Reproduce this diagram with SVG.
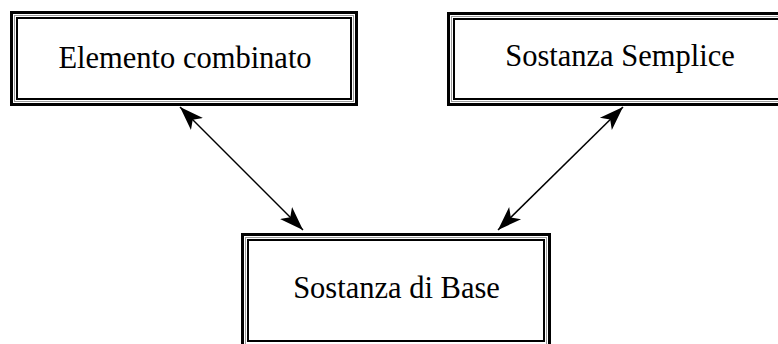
<svg xmlns="http://www.w3.org/2000/svg" width="778" height="344" viewBox="0 0 778 344">
<style>
.o{fill:none;stroke:#000;stroke-width:3}
.g{fill:none;stroke:#999;stroke-width:1}
.i{fill:none;stroke:#000;stroke-width:2}
.t{font-family:"Liberation Serif","Times New Roman",serif;font-size:30.5px;fill:#000;text-anchor:middle}
.c{stroke:#000;stroke-width:1.5;fill:none;marker-start:url(#ah);marker-end:url(#ah)}
</style>
<defs>
<marker id="ah" markerUnits="userSpaceOnUse" markerWidth="26" markerHeight="20" viewBox="0 0 26 20" refX="24" refY="10" orient="auto-start-reverse">
<path d="M0,1.5 L24,10 L0,18.5 L6,10 Z" fill="#000"/>
</marker>
</defs>
<rect width="778" height="344" fill="#fff"/>
<g id="elemento">
<rect class="o" x="11.5" y="12.5" width="345" height="92"/>
<rect class="g" x="14.5" y="15.5" width="339" height="86"/>
<rect class="i" x="17" y="18" width="334" height="81"/>
<text class="t" x="185" y="68">Elemento combinato</text>
</g>
<g id="semplice">
<rect class="o" x="448.5" y="13.5" width="340" height="91"/>
<rect class="g" x="451.5" y="16.5" width="334" height="85"/>
<rect class="i" x="454" y="19" width="329" height="80"/>
<text class="t" x="620" y="66">Sostanza Semplice</text>
</g>
<g id="base">
<rect class="o" x="242.5" y="234.5" width="307" height="120"/>
<rect class="g" x="245.5" y="237.5" width="301" height="114"/>
<rect class="i" x="248" y="240" width="296" height="101"/>
<text class="t" x="396.5" y="298">Sostanza di Base</text>
</g>
<g id="connectors">
<line class="c" x1="180" y1="107" x2="303" y2="230"/>
<line class="c" x1="623" y1="107" x2="498" y2="230"/>
</g>
</svg>
